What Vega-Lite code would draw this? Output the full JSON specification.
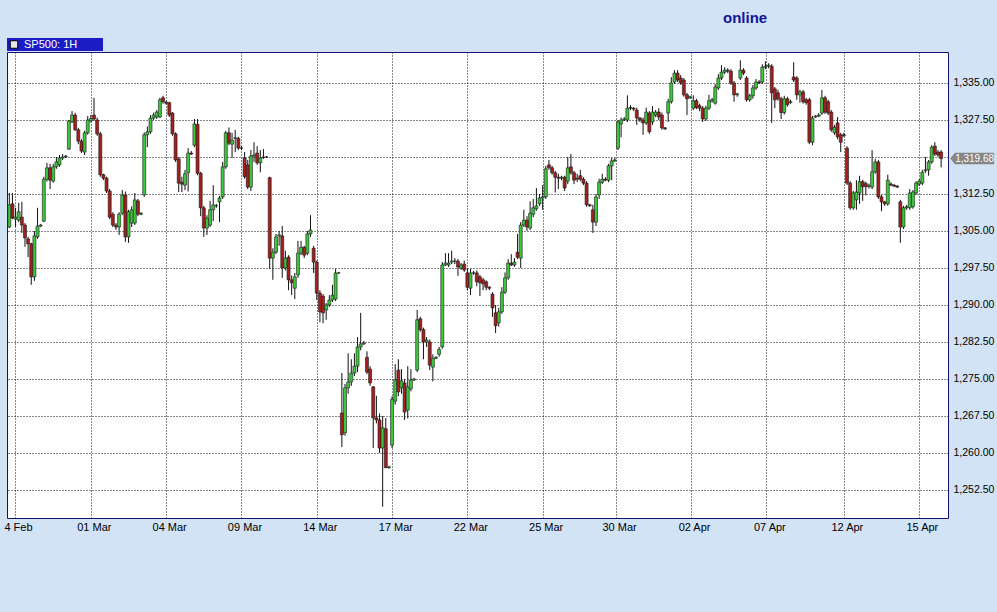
{
  "$schema": "https://vega.github.io/schema/vega-lite/v6.json",
  "autosize": {"type": "none"},
  "width": 941,
  "height": 466,
  "padding": {"left": 7, "top": 52, "right": 49, "bottom": 94},
  "background": "#d3e3f6",
  "title": {"text": "online", "anchor": "start", "frame": "group", "dx": 716, "offset": 12, "font": "Liberation Sans", "fontSize": 15, "fontWeight": "bold", "color": "#14149a"},
  "config": {
    "view": {"fill": "white", "stroke": "#14146e", "strokeWidth": 1},
    "axis": {"labelFont": "Liberation Sans", "labelColor": "#000", "domain": false, "ticks": false, "grid": true, "gridColor": "#111", "gridOpacity": 1, "gridDash": [1, 2], "gridWidth": 1, "title": null}
  },
  "data": {"values": [
{"i":0,"o":1305.8,"h":1312.7,"l":1305.6,"c":1310.3},
{"i":1,"o":1310.5,"h":1312.7,"l":1307.4,"c":1307.6},
{"i":2,"o":1307.4,"h":1309.7,"l":1305.8,"c":1307.8},
{"i":3,"o":1307.2,"h":1310.7,"l":1306.8,"c":1308.9},
{"i":4,"o":1307.8,"h":1310.9,"l":1304.6,"c":1306.2},
{"i":5,"o":1306.2,"h":1306.6,"l":1301.8,"c":1303.6},
{"i":6,"o":1303.4,"h":1303.8,"l":1299.7,"c":1302.4},
{"i":7,"o":1302.4,"h":1302.6,"l":1294.1,"c":1295.7},
{"i":8,"o":1295.7,"h":1305.0,"l":1294.9,"c":1304.0},
{"i":9,"o":1303.8,"h":1309.7,"l":1303.4,"c":1306.0},
{"i":10,"o":1306.0,"h":1306.4,"l":1305.8,"c":1306.2},
{"i":11,"o":1307.0,"h":1316.0,"l":1306.8,"c":1315.5},
{"i":12,"o":1315.5,"h":1318.8,"l":1315.0,"c":1317.8},
{"i":13,"o":1317.8,"h":1318.6,"l":1313.5,"c":1315.3},
{"i":14,"o":1315.1,"h":1318.6,"l":1314.8,"c":1318.0},
{"i":15,"o":1318.0,"h":1320.0,"l":1317.6,"c":1319.0},
{"i":16,"o":1318.4,"h":1320.4,"l":1318.0,"c":1319.8},
{"i":17,"o":1319.8,"h":1320.6,"l":1319.4,"c":1320.0},
{"i":18,"o":1320.0,"h":1320.4,"l":1319.8,"c":1320.2},
{"i":19,"o":1321.6,"h":1327.5,"l":1321.4,"c":1327.3},
{"i":20,"o":1327.1,"h":1329.3,"l":1326.9,"c":1328.5},
{"i":21,"o":1328.5,"h":1329.0,"l":1325.3,"c":1325.5},
{"i":22,"o":1325.5,"h":1325.9,"l":1322.6,"c":1323.2},
{"i":23,"o":1323.2,"h":1323.6,"l":1320.8,"c":1321.2},
{"i":24,"o":1321.0,"h":1325.3,"l":1320.4,"c":1324.9},
{"i":25,"o":1324.9,"h":1328.3,"l":1324.5,"c":1327.5},
{"i":26,"o":1327.3,"h":1328.5,"l":1327.0,"c":1327.8},
{"i":27,"o":1328.5,"h":1332.0,"l":1327.3,"c":1327.7},
{"i":28,"o":1327.5,"h":1328.0,"l":1324.3,"c":1324.7},
{"i":29,"o":1324.7,"h":1325.1,"l":1316.0,"c":1316.4},
{"i":30,"o":1316.4,"h":1316.6,"l":1315.3,"c":1315.7},
{"i":31,"o":1315.7,"h":1316.0,"l":1312.7,"c":1313.1},
{"i":32,"o":1313.1,"h":1313.5,"l":1307.4,"c":1307.8},
{"i":33,"o":1308.4,"h":1308.8,"l":1305.8,"c":1306.2},
{"i":34,"o":1306.2,"h":1306.6,"l":1305.2,"c":1305.8},
{"i":35,"o":1305.8,"h":1308.8,"l":1304.2,"c":1308.4},
{"i":36,"o":1308.6,"h":1313.3,"l":1308.2,"c":1312.3},
{"i":37,"o":1312.3,"h":1313.0,"l":1302.8,"c":1303.8},
{"i":38,"o":1303.8,"h":1309.3,"l":1302.6,"c":1308.9},
{"i":39,"o":1306.6,"h":1310.0,"l":1305.8,"c":1309.3},
{"i":40,"o":1306.6,"h":1312.7,"l":1306.2,"c":1311.3},
{"i":41,"o":1311.1,"h":1311.5,"l":1308.0,"c":1308.4},
{"i":42,"o":1308.4,"h":1308.8,"l":1308.2,"c":1308.6},
{"i":43,"o":1312.3,"h":1325.0,"l":1311.9,"c":1324.5},
{"i":44,"o":1324.5,"h":1326.2,"l":1322.0,"c":1325.1},
{"i":45,"o":1325.1,"h":1328.5,"l":1324.7,"c":1327.9},
{"i":46,"o":1327.9,"h":1329.0,"l":1327.5,"c":1328.5},
{"i":47,"o":1328.1,"h":1329.5,"l":1327.7,"c":1329.1},
{"i":48,"o":1328.1,"h":1332.0,"l":1327.9,"c":1331.6},
{"i":49,"o":1332.0,"h":1332.4,"l":1330.8,"c":1331.2},
{"i":50,"o":1331.1,"h":1331.4,"l":1330.6,"c":1330.9},
{"i":51,"o":1331.0,"h":1331.2,"l":1328.1,"c":1328.5},
{"i":52,"o":1328.9,"h":1329.1,"l":1324.3,"c":1324.7},
{"i":53,"o":1324.7,"h":1325.0,"l":1319.0,"c":1319.4},
{"i":54,"o":1319.6,"h":1320.0,"l":1312.9,"c":1314.7},
{"i":55,"o":1314.9,"h":1316.0,"l":1312.9,"c":1314.5},
{"i":56,"o":1314.3,"h":1317.4,"l":1313.3,"c":1316.6},
{"i":57,"o":1316.8,"h":1321.8,"l":1313.0,"c":1320.8},
{"i":58,"o":1320.8,"h":1321.2,"l":1320.4,"c":1320.6},
{"i":59,"o":1322.4,"h":1327.7,"l":1322.0,"c":1326.7},
{"i":60,"o":1326.6,"h":1327.7,"l":1316.3,"c":1316.7},
{"i":61,"o":1316.7,"h":1317.0,"l":1308.0,"c":1309.7},
{"i":62,"o":1309.7,"h":1310.1,"l":1303.8,"c":1305.6},
{"i":63,"o":1305.6,"h":1308.2,"l":1304.2,"c":1307.6},
{"i":64,"o":1306.2,"h":1311.1,"l":1305.8,"c":1309.3},
{"i":65,"o":1309.3,"h":1314.3,"l":1307.0,"c":1310.3},
{"i":66,"o":1310.1,"h":1310.5,"l":1309.7,"c":1310.1},
{"i":67,"o":1310.9,"h":1312.1,"l":1306.8,"c":1311.7},
{"i":68,"o":1311.9,"h":1319.0,"l":1311.5,"c":1318.0},
{"i":69,"o":1318.0,"h":1325.3,"l":1317.6,"c":1324.9},
{"i":70,"o":1324.9,"h":1326.0,"l":1322.4,"c":1322.8},
{"i":71,"o":1322.6,"h":1324.9,"l":1319.8,"c":1323.4},
{"i":72,"o":1323.8,"h":1325.5,"l":1321.0,"c":1323.9},
{"i":73,"o":1323.8,"h":1324.1,"l":1321.4,"c":1321.8},
{"i":74,"o":1321.8,"h":1322.2,"l":1321.4,"c":1321.8},
{"i":75,"o":1319.8,"h":1321.0,"l":1315.6,"c":1316.0},
{"i":76,"o":1318.4,"h":1319.4,"l":1313.5,"c":1313.9},
{"i":77,"o":1313.9,"h":1321.4,"l":1313.1,"c":1320.2},
{"i":78,"o":1320.2,"h":1323.0,"l":1319.0,"c":1320.4},
{"i":79,"o":1320.8,"h":1322.2,"l":1318.4,"c":1318.8},
{"i":80,"o":1318.8,"h":1321.4,"l":1316.9,"c":1319.8},
{"i":81,"o":1319.9,"h":1321.6,"l":1319.6,"c":1320.0},
{"i":82,"o":1320.0,"h":1320.2,"l":1319.8,"c":1320.0},
{"i":83,"o":1315.8,"h":1316.0,"l":1297.3,"c":1299.5},
{"i":84,"o":1299.5,"h":1301.5,"l":1295.1,"c":1300.7},
{"i":85,"o":1300.7,"h":1304.4,"l":1300.3,"c":1303.8},
{"i":86,"o":1304.0,"h":1305.0,"l":1302.0,"c":1304.2},
{"i":87,"o":1304.0,"h":1306.0,"l":1295.5,"c":1297.5},
{"i":88,"o":1297.5,"h":1301.0,"l":1297.0,"c":1299.5},
{"i":89,"o":1299.7,"h":1300.1,"l":1293.0,"c":1295.1},
{"i":90,"o":1295.1,"h":1296.0,"l":1292.0,"c":1294.5},
{"i":91,"o":1293.4,"h":1296.5,"l":1291.2,"c":1295.7},
{"i":92,"o":1296.1,"h":1303.0,"l":1295.5,"c":1300.5},
{"i":93,"o":1300.5,"h":1303.0,"l":1300.1,"c":1301.7},
{"i":94,"o":1301.7,"h":1302.0,"l":1299.5,"c":1300.1},
{"i":95,"o":1300.5,"h":1305.0,"l":1300.1,"c":1304.4},
{"i":96,"o":1304.4,"h":1308.2,"l":1303.8,"c":1305.2},
{"i":97,"o":1301.5,"h":1302.0,"l":1296.5,"c":1298.7},
{"i":98,"o":1298.7,"h":1299.0,"l":1291.0,"c":1292.4},
{"i":99,"o":1292.4,"h":1293.0,"l":1286.5,"c":1288.6},
{"i":100,"o":1291.8,"h":1292.2,"l":1286.3,"c":1288.4},
{"i":101,"o":1289.0,"h":1290.4,"l":1287.0,"c":1290.0},
{"i":102,"o":1290.0,"h":1292.0,"l":1289.6,"c":1291.0},
{"i":103,"o":1291.0,"h":1294.1,"l":1290.6,"c":1292.0},
{"i":104,"o":1291.2,"h":1297.3,"l":1290.8,"c":1296.5},
{"i":105,"o":1296.5,"h":1296.7,"l":1296.3,"c":1296.5},
{"i":106,"o":1268.1,"h":1276.2,"l":1261.2,"c":1263.7},
{"i":107,"o":1264.1,"h":1274.0,"l":1263.5,"c":1273.2},
{"i":108,"o":1273.2,"h":1280.2,"l":1272.0,"c":1274.4},
{"i":109,"o":1274.4,"h":1279.0,"l":1273.6,"c":1276.2},
{"i":110,"o":1276.2,"h":1280.2,"l":1275.6,"c":1277.6},
{"i":111,"o":1277.6,"h":1283.5,"l":1276.4,"c":1281.5},
{"i":112,"o":1281.5,"h":1288.4,"l":1280.8,"c":1282.1},
{"i":113,"o":1282.1,"h":1282.7,"l":1281.9,"c":1282.3},
{"i":114,"o":1279.4,"h":1280.6,"l":1276.0,"c":1276.4},
{"i":115,"o":1277.0,"h":1277.6,"l":1273.6,"c":1274.2},
{"i":116,"o":1273.4,"h":1273.6,"l":1261.0,"c":1267.1},
{"i":117,"o":1267.1,"h":1271.6,"l":1266.0,"c":1266.7},
{"i":118,"o":1266.7,"h":1268.0,"l":1260.0,"c":1261.0},
{"i":119,"o":1261.0,"h":1267.5,"l":1249.1,"c":1265.1},
{"i":120,"o":1264.9,"h":1267.1,"l":1257.0,"c":1257.0},
{"i":121,"o":1257.0,"h":1257.4,"l":1256.8,"c":1257.2},
{"i":122,"o":1261.6,"h":1271.5,"l":1261.0,"c":1270.9},
{"i":123,"o":1270.5,"h":1278.0,"l":1269.8,"c":1274.8},
{"i":124,"o":1276.8,"h":1279.0,"l":1271.5,"c":1272.4},
{"i":125,"o":1273.2,"h":1277.0,"l":1272.0,"c":1274.6},
{"i":126,"o":1274.2,"h":1275.0,"l":1266.7,"c":1268.3},
{"i":127,"o":1268.7,"h":1277.6,"l":1267.0,"c":1273.4},
{"i":128,"o":1273.0,"h":1277.0,"l":1272.5,"c":1274.8},
{"i":129,"o":1274.8,"h":1275.2,"l":1274.6,"c":1275.0},
{"i":130,"o":1276.8,"h":1289.0,"l":1276.4,"c":1287.0},
{"i":131,"o":1287.2,"h":1287.6,"l":1284.6,"c":1285.0},
{"i":132,"o":1285.0,"h":1285.4,"l":1279.0,"c":1282.5},
{"i":133,"o":1282.5,"h":1283.5,"l":1281.5,"c":1282.9},
{"i":134,"o":1282.5,"h":1283.0,"l":1276.8,"c":1277.8},
{"i":135,"o":1277.4,"h":1280.0,"l":1274.5,"c":1279.2},
{"i":136,"o":1279.2,"h":1279.6,"l":1279.0,"c":1279.4},
{"i":137,"o":1280.0,"h":1281.5,"l":1279.5,"c":1281.0},
{"i":138,"o":1281.5,"h":1298.7,"l":1281.1,"c":1298.1},
{"i":139,"o":1298.1,"h":1300.5,"l":1297.9,"c":1298.5},
{"i":140,"o":1298.1,"h":1300.5,"l":1297.7,"c":1298.5},
{"i":141,"o":1298.7,"h":1301.0,"l":1298.3,"c":1298.9},
{"i":142,"o":1298.9,"h":1299.5,"l":1298.3,"c":1298.9},
{"i":143,"o":1298.9,"h":1299.3,"l":1295.9,"c":1297.7},
{"i":144,"o":1297.5,"h":1298.5,"l":1297.1,"c":1298.1},
{"i":145,"o":1298.3,"h":1299.0,"l":1296.7,"c":1297.1},
{"i":146,"o":1296.5,"h":1297.5,"l":1293.0,"c":1293.6},
{"i":147,"o":1293.4,"h":1297.3,"l":1292.0,"c":1296.5},
{"i":148,"o":1296.5,"h":1296.9,"l":1296.1,"c":1296.5},
{"i":149,"o":1296.5,"h":1297.0,"l":1293.8,"c":1294.7},
{"i":150,"o":1295.7,"h":1296.1,"l":1291.8,"c":1294.5},
{"i":151,"o":1295.1,"h":1295.5,"l":1293.0,"c":1294.3},
{"i":152,"o":1294.7,"h":1295.0,"l":1293.0,"c":1293.6},
{"i":153,"o":1293.6,"h":1293.8,"l":1293.0,"c":1293.4},
{"i":154,"o":1292.2,"h":1292.6,"l":1287.6,"c":1289.4},
{"i":155,"o":1288.4,"h":1290.0,"l":1284.3,"c":1285.8},
{"i":156,"o":1286.4,"h":1289.4,"l":1285.6,"c":1288.6},
{"i":157,"o":1288.6,"h":1293.6,"l":1288.2,"c":1292.6},
{"i":158,"o":1292.6,"h":1296.6,"l":1292.2,"c":1295.5},
{"i":159,"o":1295.5,"h":1299.3,"l":1295.1,"c":1298.5},
{"i":160,"o":1298.5,"h":1300.3,"l":1297.9,"c":1298.1},
{"i":161,"o":1298.1,"h":1299.5,"l":1297.7,"c":1298.7},
{"i":162,"o":1300.7,"h":1304.4,"l":1299.3,"c":1299.7},
{"i":163,"o":1299.5,"h":1306.8,"l":1297.5,"c":1306.2},
{"i":164,"o":1306.2,"h":1309.3,"l":1305.8,"c":1307.2},
{"i":165,"o":1307.2,"h":1308.0,"l":1305.0,"c":1305.8},
{"i":166,"o":1305.6,"h":1311.0,"l":1305.2,"c":1308.6},
{"i":167,"o":1308.4,"h":1311.5,"l":1307.8,"c":1309.7},
{"i":168,"o":1309.5,"h":1313.7,"l":1309.1,"c":1310.1},
{"i":169,"o":1310.5,"h":1312.5,"l":1310.1,"c":1311.7},
{"i":170,"o":1311.7,"h":1314.3,"l":1309.3,"c":1311.9},
{"i":171,"o":1311.9,"h":1318.2,"l":1311.5,"c":1317.6},
{"i":172,"o":1318.4,"h":1319.4,"l":1317.4,"c":1317.8},
{"i":173,"o":1317.8,"h":1318.2,"l":1316.4,"c":1316.8},
{"i":174,"o":1316.8,"h":1317.2,"l":1312.8,"c":1315.9},
{"i":175,"o":1315.9,"h":1316.6,"l":1313.5,"c":1315.7},
{"i":176,"o":1315.7,"h":1316.2,"l":1315.3,"c":1315.9},
{"i":177,"o":1315.9,"h":1316.2,"l":1313.1,"c":1313.7},
{"i":178,"o":1315.1,"h":1320.0,"l":1314.5,"c":1317.8},
{"i":179,"o":1318.0,"h":1320.6,"l":1316.4,"c":1316.8},
{"i":180,"o":1316.8,"h":1317.2,"l":1314.5,"c":1315.3},
{"i":181,"o":1315.7,"h":1316.6,"l":1314.9,"c":1315.5},
{"i":182,"o":1316.2,"h":1317.4,"l":1315.1,"c":1315.5},
{"i":183,"o":1315.5,"h":1315.9,"l":1314.3,"c":1314.7},
{"i":184,"o":1314.7,"h":1315.1,"l":1309.9,"c":1310.3},
{"i":185,"o":1310.3,"h":1310.5,"l":1309.9,"c":1310.1},
{"i":186,"o":1309.3,"h":1310.3,"l":1304.6,"c":1306.8},
{"i":187,"o":1306.8,"h":1312.5,"l":1306.0,"c":1311.9},
{"i":188,"o":1312.3,"h":1315.6,"l":1311.5,"c":1314.9},
{"i":189,"o":1314.9,"h":1316.6,"l":1314.5,"c":1315.5},
{"i":190,"o":1315.5,"h":1315.9,"l":1315.1,"c":1315.3},
{"i":191,"o":1315.3,"h":1318.6,"l":1314.9,"c":1318.2},
{"i":192,"o":1318.2,"h":1319.8,"l":1315.3,"c":1319.2},
{"i":193,"o":1319.2,"h":1319.8,"l":1319.0,"c":1319.4},
{"i":194,"o":1321.8,"h":1327.5,"l":1321.4,"c":1327.1},
{"i":195,"o":1326.7,"h":1328.0,"l":1324.0,"c":1327.5},
{"i":196,"o":1327.5,"h":1328.1,"l":1327.3,"c":1327.7},
{"i":197,"o":1327.5,"h":1332.5,"l":1327.1,"c":1329.9},
{"i":198,"o":1330.0,"h":1330.5,"l":1329.5,"c":1329.9},
{"i":199,"o":1329.9,"h":1330.1,"l":1329.3,"c":1329.7},
{"i":200,"o":1329.5,"h":1330.0,"l":1326.5,"c":1327.9},
{"i":201,"o":1327.9,"h":1328.1,"l":1327.1,"c":1327.5},
{"i":202,"o":1327.5,"h":1328.0,"l":1324.5,"c":1326.9},
{"i":203,"o":1326.9,"h":1330.0,"l":1326.5,"c":1329.1},
{"i":204,"o":1328.9,"h":1329.3,"l":1324.7,"c":1325.1},
{"i":205,"o":1327.1,"h":1330.3,"l":1326.5,"c":1329.1},
{"i":206,"o":1328.5,"h":1329.5,"l":1328.1,"c":1329.1},
{"i":207,"o":1329.1,"h":1329.9,"l":1327.5,"c":1328.1},
{"i":208,"o":1328.5,"h":1329.0,"l":1325.5,"c":1325.9},
{"i":209,"o":1325.9,"h":1326.1,"l":1325.5,"c":1325.7},
{"i":210,"o":1328.9,"h":1331.8,"l":1327.1,"c":1331.2},
{"i":211,"o":1331.2,"h":1336.2,"l":1330.8,"c":1335.0},
{"i":212,"o":1335.2,"h":1337.6,"l":1334.8,"c":1337.0},
{"i":213,"o":1337.0,"h":1337.6,"l":1335.2,"c":1335.6},
{"i":214,"o":1336.0,"h":1336.6,"l":1334.6,"c":1335.0},
{"i":215,"o":1335.6,"h":1336.0,"l":1332.2,"c":1332.6},
{"i":216,"o":1332.6,"h":1333.0,"l":1328.5,"c":1331.8},
{"i":217,"o":1332.0,"h":1332.4,"l":1331.8,"c":1332.2},
{"i":218,"o":1329.9,"h":1332.5,"l":1329.5,"c":1331.4},
{"i":219,"o":1331.4,"h":1331.8,"l":1329.7,"c":1330.0},
{"i":220,"o":1330.4,"h":1330.8,"l":1329.3,"c":1329.9},
{"i":221,"o":1329.9,"h":1330.3,"l":1327.1,"c":1327.7},
{"i":222,"o":1327.7,"h":1330.4,"l":1327.3,"c":1329.9},
{"i":223,"o":1329.9,"h":1332.6,"l":1329.5,"c":1331.4},
{"i":224,"o":1331.4,"h":1332.0,"l":1331.0,"c":1331.6},
{"i":225,"o":1330.9,"h":1334.8,"l":1330.6,"c":1334.2},
{"i":226,"o":1334.0,"h":1336.8,"l":1333.6,"c":1336.0},
{"i":227,"o":1336.0,"h":1338.6,"l":1335.6,"c":1337.2},
{"i":228,"o":1337.2,"h":1338.2,"l":1336.8,"c":1337.6},
{"i":229,"o":1337.6,"h":1338.0,"l":1337.0,"c":1337.4},
{"i":230,"o":1337.4,"h":1337.8,"l":1334.6,"c":1335.0},
{"i":231,"o":1335.0,"h":1335.4,"l":1331.2,"c":1332.6},
{"i":232,"o":1332.6,"h":1333.0,"l":1332.2,"c":1332.8},
{"i":233,"o":1336.0,"h":1339.6,"l":1335.6,"c":1337.6},
{"i":234,"o":1337.6,"h":1338.0,"l":1336.6,"c":1337.0},
{"i":235,"o":1336.0,"h":1336.4,"l":1331.2,"c":1331.6},
{"i":236,"o":1331.6,"h":1332.8,"l":1331.2,"c":1332.4},
{"i":237,"o":1332.4,"h":1334.6,"l":1331.8,"c":1334.0},
{"i":238,"o":1334.0,"h":1335.8,"l":1333.6,"c":1335.2},
{"i":239,"o":1335.2,"h":1335.6,"l":1334.8,"c":1335.0},
{"i":240,"o":1335.2,"h":1338.8,"l":1334.8,"c":1338.2},
{"i":241,"o":1338.2,"h":1339.4,"l":1337.8,"c":1338.4},
{"i":242,"o":1338.4,"h":1339.0,"l":1338.0,"c":1338.6},
{"i":243,"o":1338.4,"h":1338.8,"l":1326.9,"c":1333.0},
{"i":244,"o":1333.8,"h":1334.2,"l":1329.9,"c":1331.6},
{"i":245,"o":1333.0,"h":1333.6,"l":1331.4,"c":1331.8},
{"i":246,"o":1331.8,"h":1332.2,"l":1327.7,"c":1329.0},
{"i":247,"o":1329.0,"h":1332.4,"l":1328.6,"c":1331.8},
{"i":248,"o":1331.8,"h":1332.2,"l":1330.2,"c":1330.6},
{"i":249,"o":1331.0,"h":1331.6,"l":1330.8,"c":1331.2},
{"i":250,"o":1336.2,"h":1339.2,"l":1335.2,"c":1335.6},
{"i":251,"o":1336.0,"h":1336.4,"l":1331.6,"c":1332.6},
{"i":252,"o":1332.6,"h":1333.6,"l":1331.0,"c":1333.2},
{"i":253,"o":1333.2,"h":1333.6,"l":1330.8,"c":1331.2},
{"i":254,"o":1331.6,"h":1332.0,"l":1330.6,"c":1331.0},
{"i":255,"o":1331.6,"h":1332.0,"l":1322.6,"c":1323.0},
{"i":256,"o":1323.0,"h":1328.3,"l":1322.4,"c":1327.9},
{"i":257,"o":1328.1,"h":1328.5,"l":1327.9,"c":1328.3},
{"i":258,"o":1328.3,"h":1328.9,"l":1328.1,"c":1328.5},
{"i":259,"o":1328.9,"h":1333.6,"l":1328.5,"c":1332.0},
{"i":260,"o":1332.0,"h":1332.4,"l":1328.7,"c":1329.1},
{"i":261,"o":1331.2,"h":1331.6,"l":1328.5,"c":1328.9},
{"i":262,"o":1329.1,"h":1329.5,"l":1325.1,"c":1325.5},
{"i":263,"o":1324.9,"h":1326.5,"l":1324.5,"c":1326.0},
{"i":264,"o":1326.9,"h":1328.1,"l":1323.6,"c":1324.1},
{"i":265,"o":1324.5,"h":1324.9,"l":1321.0,"c":1323.0},
{"i":266,"o":1324.5,"h":1324.9,"l":1324.1,"c":1324.3},
{"i":267,"o":1321.8,"h":1322.2,"l":1314.3,"c":1314.7},
{"i":268,"o":1314.7,"h":1315.1,"l":1309.3,"c":1309.7},
{"i":269,"o":1309.7,"h":1313.1,"l":1309.3,"c":1312.7},
{"i":270,"o":1311.3,"h":1315.3,"l":1309.3,"c":1312.9},
{"i":271,"o":1312.7,"h":1316.2,"l":1310.5,"c":1315.0},
{"i":272,"o":1315.0,"h":1315.4,"l":1311.1,"c":1314.0},
{"i":273,"o":1314.6,"h":1315.0,"l":1312.2,"c":1314.0},
{"i":274,"o":1314.0,"h":1314.6,"l":1313.6,"c":1314.2},
{"i":275,"o":1313.9,"h":1321.4,"l":1313.5,"c":1317.0},
{"i":276,"o":1317.0,"h":1319.6,"l":1316.6,"c":1319.0},
{"i":277,"o":1319.0,"h":1319.4,"l":1311.5,"c":1311.9},
{"i":278,"o":1311.9,"h":1312.3,"l":1309.0,"c":1310.9},
{"i":279,"o":1310.9,"h":1311.1,"l":1310.1,"c":1310.5},
{"i":280,"o":1310.5,"h":1316.4,"l":1310.1,"c":1315.3},
{"i":281,"o":1314.5,"h":1314.9,"l":1314.1,"c":1314.3},
{"i":282,"o":1314.3,"h":1314.5,"l":1313.9,"c":1314.1},
{"i":283,"o":1314.1,"h":1314.3,"l":1313.7,"c":1313.9},
{"i":284,"o":1310.9,"h":1311.3,"l":1302.6,"c":1305.8},
{"i":285,"o":1305.8,"h":1310.1,"l":1305.4,"c":1309.7},
{"i":286,"o":1309.7,"h":1310.3,"l":1309.3,"c":1309.9},
{"i":287,"o":1309.7,"h":1313.5,"l":1309.3,"c":1312.7},
{"i":288,"o":1309.9,"h":1313.3,"l":1309.5,"c":1312.9},
{"i":289,"o":1312.7,"h":1315.1,"l":1312.3,"c":1314.7},
{"i":290,"o":1314.5,"h":1315.5,"l":1314.1,"c":1315.1},
{"i":291,"o":1314.7,"h":1317.4,"l":1314.3,"c":1316.9},
{"i":292,"o":1317.2,"h":1320.0,"l":1316.8,"c":1317.4},
{"i":293,"o":1317.4,"h":1319.4,"l":1316.2,"c":1319.0},
{"i":294,"o":1319.0,"h":1322.4,"l":1318.6,"c":1322.0},
{"i":295,"o":1322.2,"h":1323.0,"l":1320.2,"c":1320.6},
{"i":296,"o":1321.0,"h":1321.4,"l":1320.0,"c":1320.4},
{"i":297,"o":1321.0,"h":1321.4,"l":1317.9,"c":1319.68}
  ]},
  "encoding": {
    "x": {"field": "i", "type": "quantitative", "scale": {"domain": [-0.733, 299.19], "nice": false, "zero": false, "padding": 0},
      "axis": {"orient": "bottom", "values": [1.8, 26, 50, 74, 98, 122.1, 146, 170, 193.4, 217.3, 241.3, 266, 289.9],
        "labelExpr": "['4 Feb','01 Mar','04 Mar','09 Mar','14 Mar','17 Mar','22 Mar','25 Mar','30 Mar','02 Apr','07 Apr','12 Apr','15 Apr'][round((datum.value - 1.8) / 24)]",
        "labelFontSize": 11, "labelPadding": 3, "labelOffset": 3, "labelFlush": false, "labelOverlap": false, "labelBaseline": "top"}}
  },
  "layer": [
    {
      "mark": {"type": "rule", "color": "#111", "strokeWidth": 1},
      "encoding": {
        "y": {"field": "l", "type": "quantitative", "scale": {"domain": [1246.82, 1341.28], "nice": false, "zero": false},
          "axis": {"orient": "right", "values": [1252.5, 1260, 1267.5, 1275, 1282.5, 1290, 1297.5, 1305, 1312.5, 1320, 1327.5, 1335],
            "labelExpr": "datum.value == 1320 ? '' : format(datum.value, ',.2f')", "labelFontSize": 10.5, "labelPadding": 5, "labelFlush": false, "labelOverlap": false}},
        "y2": {"field": "h"}
      }
    },
    {
      "mark": {"type": "bar", "width": 3, "stroke": "#1a1a1a", "strokeWidth": 0.6},
      "encoding": {
        "y": {"field": "o", "type": "quantitative"},
        "y2": {"field": "c"},
        "fill": {"condition": {"test": "datum.c >= datum.o", "value": "#3cc83c"}, "value": "#a41f1f"}
      }
    },
    {
      "transform": [{"filter": "datum.i == 297"}],
      "mark": {"type": "point", "shape": "M-1,0L-0.78,-0.26H1V0.26H-0.78Z", "size": 1936, "filled": true, "fill": "#868686", "opacity": 1, "strokeWidth": 0, "xOffset": 31, "clip": false},
      "encoding": {"y": {"field": "c", "type": "quantitative"}}
    },
    {
      "transform": [{"filter": "datum.i == 297"}],
      "mark": {"type": "text", "align": "left", "baseline": "middle", "font": "Liberation Sans", "fontSize": 10, "color": "white", "xOffset": 14, "clip": false},
      "encoding": {"y": {"field": "c", "type": "quantitative"}, "text": {"field": "c", "format": ",.2f"}}
    },
    {
      "transform": [{"filter": "datum.i == 0"}],
      "mark": {"type": "point", "shape": "M-1,-0.135H1V0.135H-1Z", "size": 9216, "filled": true, "fill": "#1c1cc4", "opacity": 1, "strokeWidth": 0, "xOffset": 45.7, "yOffset": -7.5, "clip": false},
      "encoding": {"y": {"datum": 1341.28, "type": "quantitative"}}
    },
    {
      "transform": [{"filter": "datum.i == 0"}],
      "mark": {"type": "square", "size": 56, "filled": true, "fill": "#e8e8e8", "stroke": "#000", "strokeWidth": 1, "opacity": 1, "xOffset": 4.7, "yOffset": -7.5, "clip": false},
      "encoding": {"y": {"datum": 1341.28, "type": "quantitative"}}
    },
    {
      "transform": [{"filter": "datum.i == 0"}],
      "mark": {"type": "text", "align": "left", "baseline": "middle", "font": "Liberation Sans", "fontSize": 11, "color": "white", "xOffset": 14.7, "yOffset": -7, "clip": false},
      "encoding": {"y": {"datum": 1341.28, "type": "quantitative"}, "text": {"value": "SP500: 1H"}}
    }
  ]
}
